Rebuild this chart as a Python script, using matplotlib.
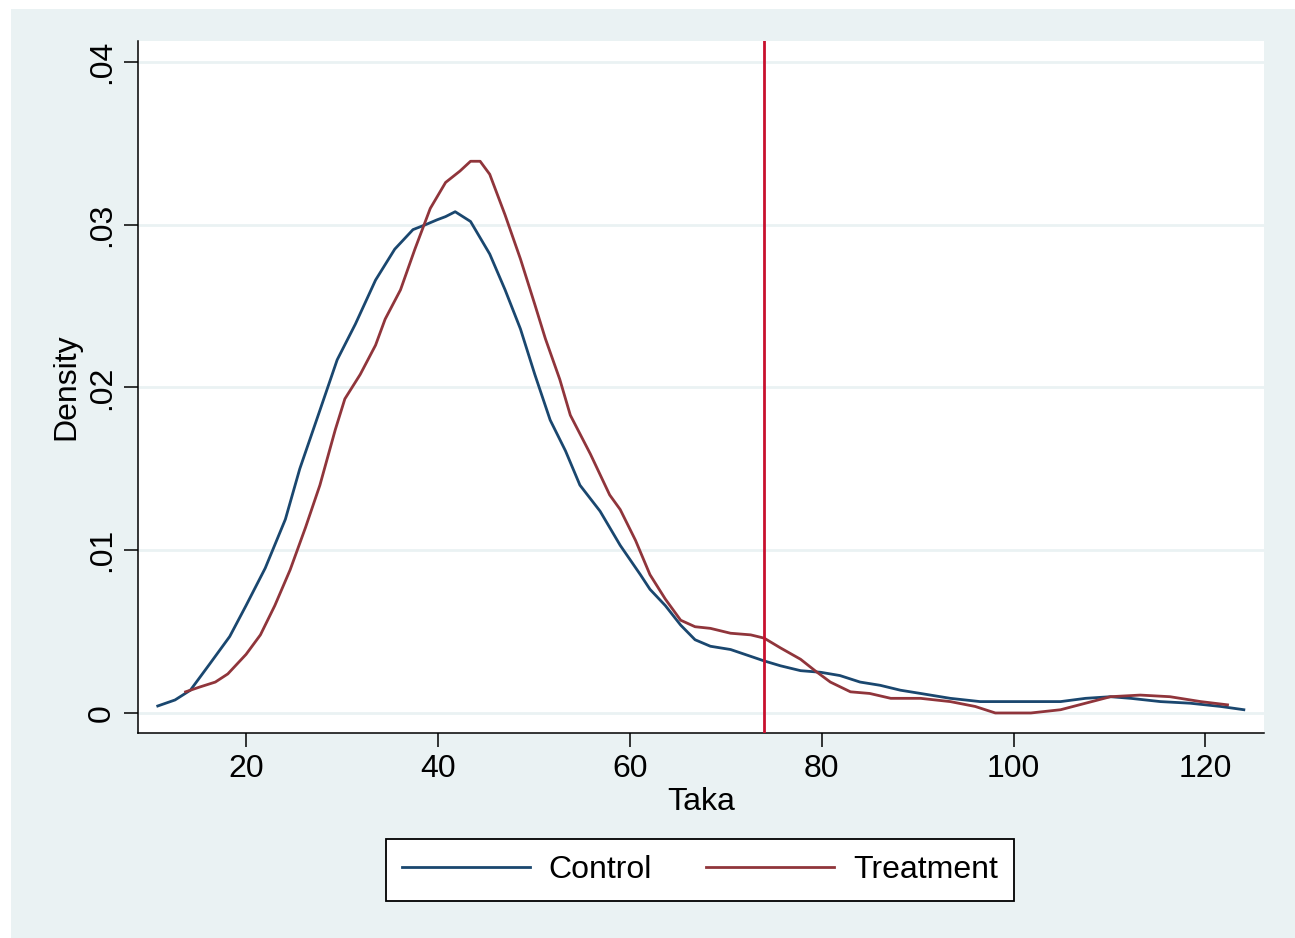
import numpy as np
import matplotlib
matplotlib.use('Agg')
import matplotlib.pyplot as plt
from matplotlib.patches import Rectangle

plt.rcParams['font.family'] = ['Liberation Sans', 'DejaVu Sans']

# kernel density estimates
control_x = [10.8, 12.6, 14.2, 16.2, 18.3, 20.0, 22.0, 24.1, 25.6, 27.7, 29.5, 31.4,
             33.5, 35.5, 37.4, 38.7, 39.9, 40.8, 41.8, 43.4, 45.4, 47.0, 48.6, 50.1,
             51.7, 53.3, 54.8, 56.9, 59.0, 61.1, 62.1, 63.7, 65.3, 66.8, 68.4, 70.5,
             72.0, 74.0, 75.7, 77.8, 79.9, 81.9, 84.0, 86.1, 88.2, 90.3, 93.4, 96.5,
             98.6, 101.8, 104.9, 107.5, 110.1, 112.2, 115.3, 118.4, 121.6, 124.0]
control_y = [0.00043, 0.0008, 0.0014, 0.0030, 0.0047, 0.0066, 0.0089, 0.0119, 0.0150,
             0.0186, 0.0217, 0.0239, 0.0266, 0.0285, 0.0297, 0.0300, 0.0303, 0.0305,
             0.0308, 0.0302, 0.0282, 0.0260, 0.0236, 0.0208, 0.0180, 0.0161, 0.0140,
             0.0124, 0.0103, 0.0085, 0.0076, 0.0066, 0.0054, 0.0045, 0.0041, 0.0039,
             0.0036, 0.0032, 0.0029, 0.0026, 0.0025, 0.0023, 0.0019, 0.0017, 0.0014,
             0.0012, 0.0009, 0.0007, 0.0007, 0.0007, 0.0007, 0.0009, 0.0010, 0.0009,
             0.0007, 0.0006, 0.0004, 0.0002]

treat_x = [13.7, 15.2, 16.8, 18.1, 20.0, 21.5, 23.0, 24.6, 26.2, 27.7, 29.3, 30.3,
           31.9, 33.5, 34.5, 36.1, 37.6, 39.2, 40.8, 42.3, 43.4, 44.4, 45.4, 47.0,
           48.6, 50.1, 51.2, 52.7, 53.8, 55.9, 57.9, 59.0, 60.6, 62.1, 63.7, 65.3,
           66.8, 68.4, 70.5, 72.6, 74.0, 75.7, 77.8, 79.3, 80.9, 83.0, 85.0, 87.2,
           90.3, 93.4, 96.0, 98.1, 101.8, 104.9, 107.5, 110.1, 113.2, 116.3, 119.5, 122.3]
treat_y = [0.0013, 0.0016, 0.0019, 0.0024, 0.0036, 0.0048, 0.0066, 0.0088, 0.0114,
           0.0140, 0.0174, 0.0193, 0.0208, 0.0226, 0.0242, 0.0260, 0.0285, 0.0310,
           0.0326, 0.0333, 0.0339, 0.0339, 0.0331, 0.0306, 0.0279, 0.0251, 0.0230,
           0.0205, 0.0183, 0.0159, 0.0134, 0.0125, 0.0106, 0.0085, 0.0070, 0.0057,
           0.0053, 0.0052, 0.0049, 0.0048, 0.0046, 0.0040, 0.0033, 0.0026, 0.0019,
           0.0013, 0.0012, 0.0009, 0.0009, 0.0007, 0.0004, 0.0, 0.0, 0.0002, 0.0006,
           0.0010, 0.0011, 0.0010, 0.0007, 0.0005]

cutoff = 74.0
x_ticks = [20, 40, 60, 80, 100, 120]
y_ticks = [0, 0.01, 0.02, 0.03, 0.04]
y_tick_labels = ['0', '.01', '.02', '.03', '.04']

bg = '#EAF2F3'
fs = 23
fig = plt.figure(figsize=(12.95, 9.38), dpi=100, facecolor='white')
# light outer band (white strip only along top and left edge)
fig.patches.append(Rectangle((11 / 1295, 0), 1, (938 - 9) / 938,
                             transform=fig.transFigure, facecolor=bg,
                             edgecolor='none', zorder=-10))

ax = fig.add_axes([138 / 1295, (938 - 733) / 938, (1264 - 138) / 1295, (733 - 41) / 938])
ax.set_facecolor('white')

for yt in y_ticks:
    ax.axhline(yt, color=bg, lw=2, zorder=1)

ax.plot(control_x, control_y, color='#1A476F', lw=2.0, label='Control', zorder=3)
ax.plot(treat_x, treat_y, color='#90353B', lw=2.0, label='Treatment', zorder=3)
ax.axvline(cutoff, color='#C8102E', lw=2.0, zorder=4)

ax.set_xlim(8.74, 126.1)
ax.set_ylim(-0.00123, 0.04129)
ax.set_xticks(x_ticks)
ax.set_yticks(y_ticks)
ax.set_yticklabels(y_tick_labels, rotation=90, va='center')
ax.tick_params(axis='both', labelsize=fs, length=10, width=1.1, direction='out', pad=5)

for s in ['top', 'right']:
    ax.spines[s].set_visible(False)
for s in ['left', 'bottom']:
    ax.spines[s].set_linewidth(1.1)

ax.set_xlabel('Taka', fontsize=fs, labelpad=2)
ax.set_ylabel('Density', fontsize=fs, labelpad=4)

leg = ax.legend(loc='center', bbox_to_anchor=(700 / 1295, (938 - 870) / 938),
                bbox_transform=fig.transFigure, ncol=2, fontsize=fs, frameon=True,
                fancybox=False, edgecolor='black', facecolor='white', framealpha=1,
                handlelength=4.0, handletextpad=0.6, columnspacing=1.7, borderpad=0.5)
leg.get_frame().set_linewidth(1.3)

fig.savefig('out.png', dpi=100, facecolor=fig.get_facecolor())
